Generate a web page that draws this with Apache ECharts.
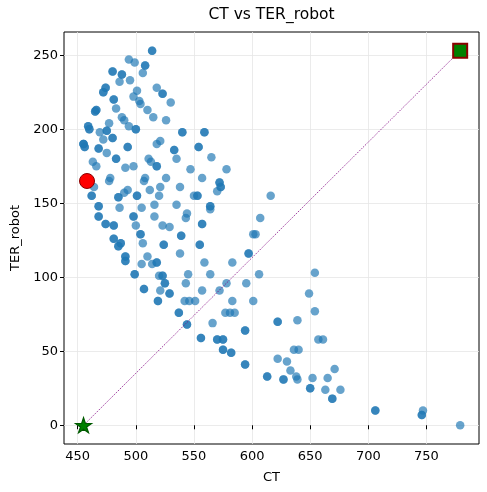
<!DOCTYPE html>
<html>
<head>
<meta charset="utf-8">
<script src="https://cdn.jsdelivr.net/npm/echarts@6/dist/echarts.min.js"></script>
<style>
  html, body { margin: 0; padding: 0; background: #ffffff; }
  #chart { width: 487px; height: 492px; }
</style>
</head>
<body>
<div id="chart"></div>
<script>
// Cycle time (CT) of each evaluated configuration; repeated pairs are repeated observations
const ctValues = [
  514, 514, 494, 499, 508, 508, 506, 480, 480, 488, 488, 486, 495, 474, 474, 472, 472,
  518, 523, 523, 501, 498, 503, 504, 530, 481, 481, 483, 466, 466, 465, 465, 510, 515,
  526, 488, 490, 477, 494, 500, 500, 459, 459, 460, 460, 469, 475, 475, 480, 480, 472,
  540, 540, 521, 518, 455, 455, 455, 456, 456, 493, 493, 468, 468, 475, 533, 533, 535,
  483, 483, 463, 466, 498, 491, 511, 513, 518, 518, 559, 559, 554, 554, 565, 547, 578,
  478, 477, 508, 507, 526, 521, 538, 512, 493, 490, 464, 462, 462, 485, 485, 501, 501,
  520, 486, 468, 468, 505, 516, 535, 468, 468, 498, 498, 516, 474, 474, 481, 481, 500,
  523, 529, 539, 539, 504, 504, 481, 481, 487, 487, 485, 485, 506, 524, 524, 491, 491,
  491, 491, 510, 505, 514, 518, 518, 538, 499, 499, 520, 523, 523, 525, 525, 507, 507,
  521, 529, 529, 519, 519, 557, 572, 572, 573, 573, 570, 550, 553, 553, 616, 564, 564,
  564, 544, 543, 557, 557, 607, 601, 603, 555, 555, 597, 597, 559, 583, 545, 564, 606,
  543, 578, 595, 557, 572, 654, 649, 654, 622, 622, 639, 583, 601, 577, 581, 585, 566,
  594, 594, 544, 544, 542, 546, 551, 537, 537, 556, 556, 570, 570, 575, 575, 575, 575,
  582, 582, 594, 594, 613, 613, 627, 627, 622, 630, 633, 638, 639, 636, 640, 657, 661,
  652, 665, 671, 650, 650, 663, 676, 669, 669, 706, 706, 747, 746, 746, 779
];
// Robot travel (TER_robot) for the same configurations, in the same order
const terValues = [
  253, 253, 247, 245, 243, 243, 238, 239, 239, 237, 237, 232, 233, 228, 228, 225, 225,
  228, 224, 224, 226, 222, 219, 217, 218, 220, 220, 214, 213, 213, 212, 212, 213, 208,
  206, 208, 206, 204, 202, 200, 200, 202, 202, 200, 200, 198, 199, 199, 194, 194, 193,
  198, 198, 192, 190, 190, 190, 190, 188, 188, 188, 188, 187, 187, 184, 186, 186, 180,
  180, 180, 178, 175, 175, 174, 180, 178, 175, 175, 198, 198, 188, 188, 181, 173, 173,
  167, 165, 167, 165, 167, 161, 161, 159, 159, 157, 161, 155, 155, 154, 154, 155, 155,
  155, 147, 148, 148, 147, 149, 149, 141, 141, 141, 141, 141, 136, 136, 135, 135, 135,
  135, 134, 128, 128, 129, 129, 126, 126, 123, 123, 121, 121, 123, 122, 122, 114, 114,
  111, 111, 114, 109, 109, 110, 110, 116, 102, 102, 101, 101, 101, 96, 96, 92, 92,
  91, 89, 89, 84, 84, 167, 164, 164, 161, 161, 158, 155, 155, 155, 155, 148, 148,
  146, 143, 140, 136, 136, 140, 129, 129, 122, 122, 116, 116, 110, 110, 102, 102, 102,
  96, 96, 96, 91, 91, 103, 89, 77, 70, 70, 71, 84, 84, 76, 76, 76, 69,
  64, 64, 68, 68, 84, 84, 84, 76, 76, 59, 59, 58, 58, 58, 58, 51, 51,
  49, 49, 41, 41, 33, 33, 31, 31, 45, 43, 37, 33, 31, 51, 51, 58, 58,
  32, 32, 38, 25, 25, 24, 24, 18, 18, 10, 10, 10, 7, 7, 0
];

// Highlighted configurations
const selectedPoint = [458, 165];
const idealPoint = [455, 0];
const nadirPoint = [779, 253];

// Axis ticks
const xTicks = [450, 500, 550, 600, 650, 700, 750];
const yTicks = [0, 50, 100, 150, 200, 250];

const scatterData = ctValues.map((ct, i) => [ct, terValues[i]]);

// five-pointed star outline, matplotlib-style proportions
function starPath() {
  const outer = 1, inner = 0.381966;
  const pts = [];
  for (let k = 0; k < 10; k++) {
    const r = k % 2 === 0 ? outer : inner;
    const a = -Math.PI / 2 + k * Math.PI / 5;
    pts.push((r * Math.cos(a)).toFixed(4) + ',' + (r * Math.sin(a)).toFixed(4));
  }
  return 'path://M' + pts.join('L') + 'Z';
}

const font = 'DejaVu Sans';
const chart = echarts.init(document.getElementById('chart'), null, { renderer: 'canvas' });

const axisCommon = {
  type: 'value',
  axisLine: { show: false },
  axisTick: { show: true, length: 4, lineStyle: { color: '#000', width: 1 } },
  axisLabel: { color: '#000', fontFamily: font, fontSize: 13, margin: 6 },
  splitLine: { show: true, lineStyle: { color: '#e6e6e6', width: 0.8 } },
  nameLocation: 'middle',
  nameTextStyle: { color: '#000', fontFamily: font, fontSize: 13 }
};

chart.setOption({
  animation: false,
  backgroundColor: '#ffffff',
  title: {
    text: 'CT vs TER_robot',
    left: 271.5,
    textAlign: 'center',
    top: 7,
    padding: 0,
    textStyle: { color: '#000', fontFamily: font, fontSize: 15.5, fontWeight: 'normal' }
  },
  grid: {
    left: 64, right: 8, top: 32, bottom: 48,
    show: true, borderColor: '#000', borderWidth: 1, backgroundColor: 'transparent'
  },
  xAxis: Object.assign({}, axisCommon, {
    min: 438.2, max: 795.2,
    name: 'CT', nameGap: 27,
    axisTick: Object.assign({}, axisCommon.axisTick, { customValues: xTicks }),
    axisLabel: Object.assign({}, axisCommon.axisLabel, { customValues: xTicks })
  }),
  yAxis: Object.assign({}, axisCommon, {
    min: -12.65, max: 265.65,
    name: 'TER_robot', nameGap: 37,
    axisTick: Object.assign({}, axisCommon.axisTick, { customValues: yTicks }),
    axisLabel: Object.assign({}, axisCommon.axisLabel, { customValues: yTicks })
  }),
  series: [
    {
      type: 'scatter',
      data: scatterData,
      symbol: 'circle',
      symbolSize: 8.5,
      itemStyle: { color: 'rgba(31,119,180,0.68)', opacity: 1 },
      z: 2
    },
    {
      type: 'line',
      data: [idealPoint, nadirPoint],
      symbol: 'none',
      lineStyle: { color: 'rgba(128,0,128,0.75)', width: 1, type: [1.5, 1.2] },
      z: 3
    },
    {
      type: 'scatter',
      data: [selectedPoint],
      symbol: 'circle',
      symbolSize: 15,
      itemStyle: { color: '#ff0000', borderColor: '#8b0000', borderWidth: 1, opacity: 1 },
      z: 4
    },
    {
      type: 'scatter',
      data: [idealPoint],
      symbol: starPath(),
      symbolSize: [16, 15],
      itemStyle: { color: '#008000', borderColor: '#005a00', borderWidth: 1.2, opacity: 1 },
      z: 4
    },
    {
      type: 'scatter',
      data: [nadirPoint],
      symbol: 'rect',
      symbolSize: 14,
      itemStyle: { color: '#008000', borderColor: '#8b0000', borderWidth: 2, opacity: 1 },
      z: 4
    }
  ]
});
</script>
</body>
</html>
